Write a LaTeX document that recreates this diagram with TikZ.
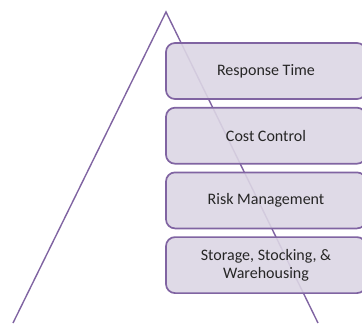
\documentclass[tikz,border=0pt]{standalone}
\usepackage{fontspec}
\setmainfont{Carlito}
\usetikzlibrary{positioning}

\definecolor{tierline}{HTML}{8064A2}
\definecolor{tierfill}{HTML}{DCD6E4}

\begin{document}
\begin{tikzpicture}[x=1pt,y=-1pt,
    tier/.style={draw=tierline, line width=1.7pt, fill=tierfill, fill opacity=0.9,
      text opacity=1, rounded corners=9pt, minimum width=200pt, minimum height=56pt,
      align=center, font=\fontsize{16}{18.5}\selectfont, text=black!85},
    pyramid/.style={draw=tierline, line width=1.4pt, line join=miter}]
  \useasboundingbox (0,0) rectangle (362,324);

  % the pyramid outline
  \coordinate (apex) at (166,12);
  \coordinate (baseL) at (13,323);
  \coordinate (baseR) at (318,323);
  \draw[pyramid] (baseL) -- (apex) -- (baseR);

  % tiers, top to bottom
  \node[tier] (resp) at (266,71) {Response Time};
  \node[tier, below=7pt of resp] (cost) {Cost Control};
  \node[tier, below=7pt of cost] (risk) {Risk Management};
  \node[tier, below=7pt of risk] (store) {Storage, Stocking, \&\\Warehousing};
\end{tikzpicture}
\end{document}
